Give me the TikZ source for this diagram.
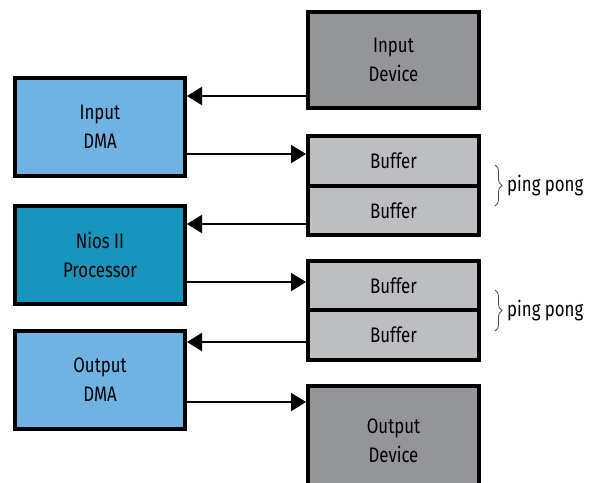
\documentclass[tikz,border=0pt]{standalone}
\usepackage{fontspec}
\setmainfont{Fira Sans}[FakeStretch=0.8]
\usetikzlibrary{arrows.meta,decorations.pathreplacing}
\definecolor{dmablue}{HTML}{6FB3E2}
\definecolor{niosblue}{HTML}{1895BE}
\definecolor{devgray}{HTML}{939598}
\definecolor{bufgray}{HTML}{BDBEC1}
\begin{document}
\begin{tikzpicture}[x=1pt, y=-1pt, >={Triangle[length=15pt,width=18pt]},
    box/.style={draw, line width=4pt, minimum width=170pt, minimum height=98pt,
        inner sep=0pt, align=center, font=\fontsize{21}{29}\selectfont},
    bufbox/.style={box, fill=bufgray, minimum height=49.5pt},
    link/.style={line width=2pt},
    pp/.style={decorate, decoration={brace, amplitude=7pt}, line width=.8pt, black!70}]
\clip (0,0) rectangle (589,482);
% left column
\node[box, fill=dmablue] (indma) at (100,127) {Input\\DMA};
\node[box, fill=niosblue] (nios) at (100,254.5) {Nios II\\Processor};
\node[box, fill=dmablue] (outdma) at (100,379.5) {Output\\DMA};
% right column
\node[box, fill=devgray, minimum width=171pt, minimum height=96pt] (indev) at (393.5,60) {Input\\Device};
\node[bufbox, minimum width=171pt] (bufa) at (393.5,160.75) {Buffer};
\node[bufbox, minimum width=171pt] (bufb) at (393.5,210.25) {Buffer};
\node[bufbox, minimum width=171pt] (bufc) at (393.5,285.25) {Buffer};
\node[bufbox, minimum width=171pt] (bufd) at (393.5,334.75) {Buffer};
\node[box, fill=devgray, minimum width=171pt, minimum height=110pt] (outdev) at (393.5,441) {Output\\Device};
% data flow
\draw[link,<-] (indma.east |- 0,96) -- (indev.west |- 0,96);
\draw[link,->] (indma.east |- 0,154) -- (bufa.west |- 0,154);
\draw[link,<-] (nios.east |- 0,224) -- (bufb.west |- 0,224);
\draw[link,->] (nios.east |- 0,282) -- (bufc.west |- 0,282);
\draw[link,<-] (outdma.east |- 0,342) -- (bufd.west |- 0,342);
\draw[link,->] (outdma.east |- 0,402) -- (outdev.west |- 0,402);
% ping pong pairs
\coordinate (ppa1) at (495,165);
\coordinate (ppa2) at (495,206);
\coordinate (ppb1) at (495,290);
\coordinate (ppb2) at (495,331);
\draw[pp] (ppa1) -- (ppa2);
\draw[pp] (ppb1) -- (ppb2);
\node[right, inner sep=0pt, font=\fontsize{21}{29}\selectfont] (ppa) at (507,185.5) {ping pong};
\node[right, inner sep=0pt, font=\fontsize{21}{29}\selectfont] (ppb) at (507,310.5) {ping pong};
\end{tikzpicture}
\end{document}
